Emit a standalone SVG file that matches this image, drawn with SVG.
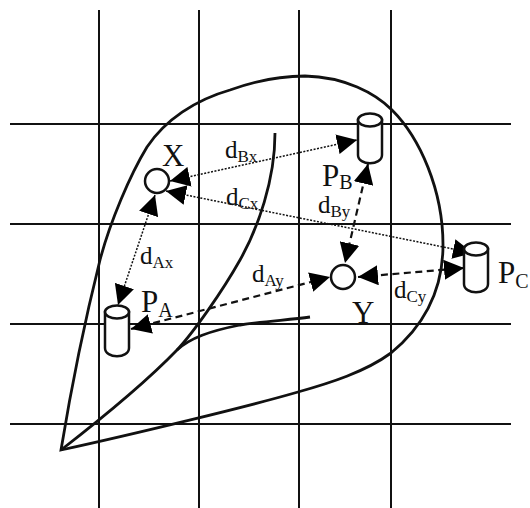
<svg xmlns="http://www.w3.org/2000/svg" width="530" height="508" viewBox="0 0 530 508">
<style>
.g{stroke:#111;stroke-width:2;fill:none}
.c{stroke:#111;stroke-width:2.800;fill:none}
.n{stroke:#111;stroke-width:2.500;fill:#fff}
.dot{stroke:#111;stroke-width:1.500;stroke-dasharray:2 1.500;fill:none;marker-start:url(#h);marker-end:url(#h)}
.dash{stroke:#111;stroke-width:2.200;stroke-dasharray:7 4.500;fill:none;marker-start:url(#h);marker-end:url(#h)}
text{font-family:"Liberation Serif","Times New Roman",serif;fill:#111}
.d{font-size:25px}.p{font-size:31px}.s{font-size:17px}.t{font-size:20px}
</style>
<defs>
<marker id="h" viewBox="0 0 20 20" refX="20" refY="10" markerWidth="20" markerHeight="20" markerUnits="userSpaceOnUse" orient="auto-start-reverse"><path d="M0,0L20,10L0,20Z" fill="#000"/></marker>
</defs>
<rect width="530" height="508" fill="#fff"/>
<g id="grid" class="g">
<path d="M99,10V508M199,10V508M299,10V508M391,10V508"/>
<path d="M10,124H511M10,224H511M10,324H511M10,424H511"/>
</g>
<g id="outlines" class="c">
<path d="M61,450C70,395 85,320 100,260C110,222 130,175 147,147C165,120 195,100 230,90C255,81 280,76 305,76C345,77 375,93 392,110C420,138 443,190 443,245C443,290 425,325 391,353C365,372 330,383 298,392C250,406 130,435 61,450Z"/>
<path d="M61,450C110,412 150,378 177,350C193,333 222,292 240,260C258,228 275,180 275,133"/>
<path d="M177,350C190,338 210,331 240,325C265,321 290,320 310,317"/>
</g>
<g id="connectors">
<path class="dot" d="M155,195L118,305"/>
<path class="dot" d="M170,181L357,140"/>
<path class="dot" d="M166,191L473,253"/>
<path class="dash" d="M131,329L330,277"/>
<path class="dash" d="M368,164L345,263"/>
<path class="dash" d="M358,277L464,268"/>
</g>
<g id="node-x"><circle class="n" cx="157" cy="181" r="12"/><text class="p" x="162" y="166">X</text></g>
<g id="node-y"><circle class="n" cx="343" cy="277" r="12"/><text class="p" x="352" y="323">Y</text></g>
<g id="node-pa"><path class="n" d="M105,312V348C105,359 129,359 129,348V312Z"/><ellipse class="n" cx="117" cy="312" rx="12" ry="6.500"/><text class="p" x="141" y="312">P<tspan class="t" dy="5">A</tspan></text></g>
<g id="node-pb"><path class="n" d="M358,120V155C358,166 382,166 382,155V120Z"/><ellipse class="n" cx="370" cy="120" rx="12" ry="6.500"/><text class="p" x="322" y="186">P<tspan class="t" dy="3">B</tspan></text></g>
<g id="node-pc"><path class="n" d="M464,249V284C464,295 488,295 488,284V249Z"/><ellipse class="n" cx="476" cy="249" rx="12" ry="6.500"/><text class="p" x="498" y="283">P<tspan class="t" dy="5">C</tspan></text></g>
<g id="labels">
<text class="d" x="225" y="158">d<tspan class="s" dy="4">Bx</tspan></text>
<text class="d" x="226" y="205">d<tspan class="s" dy="4">Cx</tspan></text>
<text class="d" x="140" y="264">d<tspan class="s" dy="4">Ax</tspan></text>
<text class="d" x="252" y="282">d<tspan class="s" dy="4">Ay</tspan></text>
<text class="d" x="318" y="213">d<tspan class="s" dy="4">By</tspan></text>
<text class="d" x="394" y="298">d<tspan class="s" dy="4">Cy</tspan></text>
</g>
</svg>
